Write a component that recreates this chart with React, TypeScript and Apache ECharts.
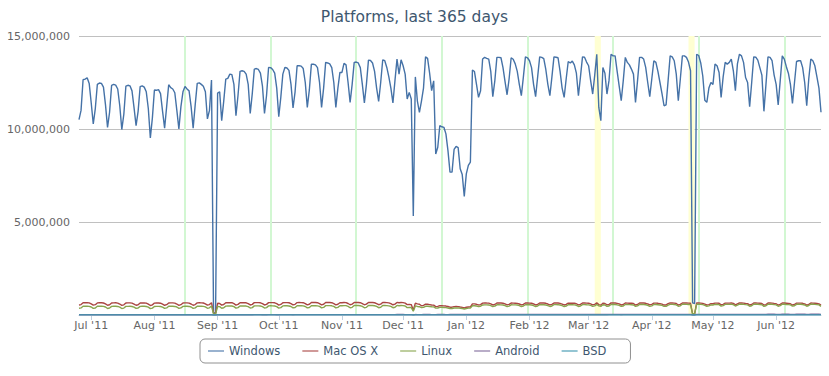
import React, { useEffect, useRef } from "react";
import * as echarts from "echarts";

const START_UTC = Date.UTC(2011, 5, 25);
const DAY_COUNT = 365;
const MONTH_NAMES = ["Jan", "Feb", "Mar", "Apr", "May", "Jun", "Jul", "Aug", "Sep", "Oct", "Nov", "Dec"];
const SERIES_NAMES = ["Windows", "Mac OS X", "Linux", "Android", "BSD"];
const SERIES_COLORS = ["#4572A7", "#AA4643", "#89A54E", "#80699B", "#3D96AE"];
const RELEASE_DATES = ["2011-08-16", "2011-09-27", "2011-11-08", "2011-12-20", "2012-01-31", "2012-03-13", "2012-04-24", "2012-06-05"];
const HIGHLIGHT_RANGES = [["2012-03-04", "2012-03-07"], ["2012-04-19", "2012-04-22"]];
const Y_MAX = 15000000;
const Y_STEP = 5000000;

// Windows, millions (Sat..Fri per row)
const windowsM = [
  10.50, 11.00, 12.65, 12.68, 12.75, 12.45, 11.40,
  10.27, 11.10, 12.40, 12.47, 12.45, 12.25, 11.30,
  10.09, 10.90, 12.35, 12.40, 12.36, 12.15, 11.25,
  9.97, 10.80, 12.30, 12.35, 12.32, 12.05, 11.15,
  10.18, 10.95, 12.28, 12.32, 12.25, 12.00, 11.10,
  9.52, 10.60, 12.10, 12.08, 12.12, 11.90, 10.95,
  10.05, 11.20, 12.38, 12.22, 12.15, 11.95, 11.00,
  10.00, 11.20, 12.00, 12.29, 12.15, 12.05, 11.20,
  10.04, 11.30, 12.45, 12.48, 12.40, 12.30, 12.00,
  10.54, 11.00, 12.63, 0.12, 0.10, 11.93, 12.00,
  10.45, 11.50, 12.68, 12.72, 12.95, 12.92, 12.40,
  10.72, 11.80, 13.10, 13.13, 13.10, 12.95, 12.40,
  10.84, 11.90, 13.22, 13.25, 13.20, 13.00, 12.30,
  10.84, 11.80, 13.31, 13.30, 13.20, 13.00, 12.20,
  10.66, 11.70, 12.95, 13.31, 13.28, 13.15, 12.40,
  11.13, 12.00, 13.40, 13.40, 13.38, 13.25, 12.50,
  11.16, 12.10, 13.49, 13.48, 13.45, 13.30, 12.50,
  11.16, 12.20, 13.58, 13.55, 13.50, 13.30, 12.50,
  11.16, 12.20, 13.04, 13.04, 13.53, 13.45, 12.50,
  11.43, 12.40, 13.58, 13.60, 13.55, 13.30, 12.40,
  11.40, 12.40, 13.70, 13.68, 13.55, 13.10, 12.20,
  11.48, 12.50, 13.72, 13.67, 13.31, 12.80, 12.20,
  11.40, 12.60, 13.76, 12.95, 13.72, 13.40, 12.95,
  11.61, 11.97, 11.61, 5.32, 12.80, 11.50, 10.90,
  11.50, 12.20, 13.88, 13.80, 13.00, 12.06, 12.59,
  8.66, 9.02, 10.18, 10.12, 10.09, 9.74, 8.84,
  7.68, 7.68, 8.90, 9.06, 9.00, 7.86, 7.55,
  6.38, 7.59, 8.04, 8.22, 13.17, 13.09, 12.40,
  11.70, 12.06, 13.76, 13.85, 13.80, 13.76, 13.10,
  11.74, 12.60, 13.85, 13.85, 13.83, 13.30, 12.55,
  11.84, 12.70, 13.83, 13.75, 13.50, 13.10, 12.40,
  11.79, 12.80, 13.88, 13.83, 13.67, 13.30, 12.40,
  11.74, 12.80, 13.88, 13.85, 13.78, 13.20, 12.40,
  11.79, 12.80, 13.88, 13.86, 13.83, 13.10, 12.20,
  11.70, 12.70, 13.63, 13.55, 13.65, 13.45, 13.00,
  11.79, 12.80, 13.88, 13.86, 13.60, 13.40, 12.60,
  11.88, 12.90, 14.02, 11.16, 10.45, 13.31, 13.00,
  11.88, 12.60, 14.02, 13.93, 13.93, 13.10, 12.30,
  11.52, 12.60, 13.85, 13.58, 13.45, 13.22, 12.95,
  11.43, 12.60, 13.85, 13.85, 13.76, 13.31, 12.50,
  11.74, 12.70, 13.67, 13.58, 13.10, 12.50, 11.90,
  11.25, 11.30, 12.60, 13.93, 13.88, 13.67, 12.95,
  11.52, 12.70, 13.93, 13.93, 13.85, 13.60, 13.13,
  0.65, 0.62, 14.02, 13.95, 13.55, 12.85, 11.55,
  11.43, 12.20, 12.50, 12.40, 13.49, 13.40, 13.04,
  11.70, 12.80, 13.58, 13.49, 13.58, 13.76, 13.13,
  12.06, 13.50, 14.02, 13.93, 13.58, 12.77, 12.50,
  11.20, 12.50, 13.88, 13.86, 13.70, 13.30, 12.90,
  10.95, 12.40, 13.88, 13.85, 13.67, 12.90, 12.40,
  11.30, 12.60, 13.93, 13.76, 13.35, 13.00, 12.40,
  11.38, 12.50, 13.63, 13.67, 13.67, 13.30, 12.50,
  11.25, 12.70, 13.76, 13.67, 13.40, 12.80, 12.20,
  10.90,
];

// Mac OS X, thousands
const macK = [
  540, 560, 655, 660, 662, 650, 600,
  530, 555, 650, 655, 658, 645, 595,
  525, 550, 648, 652, 655, 640, 590,
  520, 548, 645, 650, 652, 640, 588,
  525, 552, 645, 648, 650, 638, 585,
  510, 545, 640, 645, 648, 635, 582,
  522, 555, 648, 650, 650, 640, 590,
  520, 555, 645, 652, 650, 640, 592,
  525, 560, 650, 655, 652, 645, 600,
  535, 560, 660, 90, 80, 630, 620,
  530, 565, 655, 660, 665, 660, 610,
  535, 570, 660, 665, 662, 655, 610,
  540, 572, 665, 668, 665, 655, 612,
  540, 570, 665, 668, 665, 655, 610,
  535, 568, 660, 668, 666, 658, 612,
  545, 575, 668, 670, 668, 660, 615,
  548, 578, 670, 672, 670, 660, 615,
  548, 580, 672, 674, 670, 660, 615,
  548, 580, 660, 662, 672, 668, 618,
  552, 585, 672, 675, 672, 662, 615,
  550, 583, 675, 675, 670, 658, 612,
  552, 585, 675, 674, 665, 650, 610,
  550, 585, 676, 660, 674, 665, 640,
  555, 565, 560, 260, 640, 600, 580,
  500, 520, 580, 575, 560, 540, 530,
  450, 460, 500, 495, 490, 480, 455,
  420, 420, 450, 455, 452, 430, 410,
  380, 415, 430, 440, 600, 600, 575,
  540, 560, 640, 645, 642, 640, 600,
  540, 565, 645, 645, 642, 630, 595,
  545, 570, 642, 640, 635, 625, 592,
  542, 572, 645, 645, 640, 630, 592,
  540, 570, 645, 645, 642, 628, 590,
  542, 570, 645, 645, 643, 625, 588,
  540, 568, 638, 635, 638, 632, 605,
  542, 570, 645, 645, 638, 630, 595,
  545, 575, 650, 560, 530, 635, 620,
  545, 565, 650, 648, 648, 625, 595,
  540, 565, 645, 638, 635, 628, 615,
  538, 565, 645, 645, 642, 628, 595,
  542, 568, 640, 638, 628, 610, 588,
  535, 540, 610, 648, 645, 640, 618,
  540, 570, 648, 648, 645, 640, 628,
  60, 55, 650, 648, 640, 625, 585,
  538, 560, 610, 605, 640, 638, 628,
  545, 575, 640, 638, 640, 645, 628,
  550, 600, 650, 648, 640, 620, 610,
  535, 565, 645, 645, 640, 628, 615,
  530, 560, 645, 645, 640, 622, 605,
  535, 568, 648, 642, 632, 622, 605,
  538, 565, 638, 640, 640, 628, 600,
  535, 575, 642, 640, 635, 620, 600,
  528,
];

// Linux, thousands
const linuxK = [
  360, 380, 470, 472, 475, 465, 430,
  355, 378, 468, 470, 472, 462, 428,
  352, 375, 465, 468, 470, 460, 425,
  350, 372, 462, 466, 468, 458, 422,
  355, 376, 465, 468, 470, 458, 425,
  345, 370, 460, 462, 465, 455, 420,
  356, 380, 468, 470, 470, 460, 428,
  355, 380, 466, 472, 470, 460, 430,
  358, 382, 472, 475, 472, 465, 440,
  365, 385, 480, 70, 60, 455, 450,
  365, 390, 478, 482, 485, 482, 448,
  370, 395, 485, 488, 486, 480, 450,
  375, 398, 490, 492, 490, 482, 452,
  375, 398, 492, 494, 492, 482, 452,
  372, 396, 488, 495, 494, 486, 455,
  380, 402, 496, 498, 496, 488, 458,
  382, 405, 500, 502, 500, 490, 460,
  385, 408, 505, 506, 504, 494, 462,
  385, 408, 495, 496, 506, 502, 465,
  390, 412, 508, 510, 508, 498, 465,
  390, 412, 512, 512, 508, 496, 462,
  392, 415, 514, 512, 505, 492, 462,
  392, 418, 516, 500, 514, 505, 485,
  398, 405, 400, 200, 490, 460, 445,
  395, 415, 470, 468, 455, 440, 435,
  370, 378, 410, 408, 405, 398, 378,
  352, 352, 378, 382, 380, 362, 348,
  325, 352, 368, 375, 500, 500, 482,
  450, 470, 540, 545, 542, 540, 505,
  452, 475, 548, 548, 546, 536, 505,
  455, 480, 548, 546, 542, 535, 505,
  456, 482, 552, 552, 548, 540, 508,
  456, 482, 555, 555, 552, 540, 508,
  458, 484, 556, 556, 555, 538, 506,
  456, 482, 550, 548, 552, 546, 522,
  460, 486, 560, 560, 552, 546, 514,
  462, 490, 566, 490, 465, 552, 540,
  465, 485, 568, 566, 566, 546, 518,
  462, 486, 565, 558, 556, 550, 538,
  462, 488, 568, 568, 565, 552, 522,
  466, 490, 565, 562, 552, 538, 515,
  462, 465, 535, 572, 570, 566, 546,
  468, 494, 575, 575, 572, 566, 555,
  55, 50, 578, 576, 570, 556, 520,
  470, 490, 542, 538, 570, 568, 560,
  478, 505, 572, 570, 572, 576, 560,
  482, 530, 582, 580, 572, 555, 545,
  470, 498, 578, 578, 574, 562, 550,
  466, 495, 578, 578, 574, 558, 542,
  470, 502, 582, 578, 568, 560, 545,
  474, 500, 575, 578, 578, 566, 540,
  472, 510, 580, 578, 572, 560, 542,
  468,
];

// Android, thousands
const androidK = [
  10, 11, 12, 12, 12, 12, 11,
  10, 11, 12, 12, 12, 12, 11,
  11, 12, 13, 13, 13, 13, 12,
  11, 12, 13, 13, 13, 13, 12,
  12, 13, 14, 14, 14, 14, 13,
  12, 13, 14, 14, 14, 14, 13,
  13, 14, 15, 15, 15, 15, 14,
  13, 14, 15, 15, 15, 15, 14,
  14, 15, 16, 16, 16, 16, 15,
  14, 15, 16, 3, 3, 16, 15,
  15, 16, 17, 17, 17, 17, 16,
  15, 16, 17, 17, 17, 17, 16,
  16, 17, 18, 18, 18, 18, 17,
  16, 17, 18, 18, 18, 18, 17,
  17, 18, 19, 19, 19, 19, 18,
  17, 18, 19, 19, 19, 19, 18,
  18, 19, 20, 20, 20, 20, 19,
  18, 19, 20, 20, 20, 20, 19,
  19, 20, 21, 21, 21, 21, 20,
  19, 20, 21, 21, 21, 21, 20,
  20, 21, 22, 22, 22, 22, 21,
  20, 21, 22, 22, 22, 22, 21,
  21, 22, 23, 23, 23, 23, 22,
  21, 22, 22, 10, 23, 22, 21,
  22, 23, 24, 24, 23, 22, 22,
  22, 23, 23, 23, 23, 22, 22,
  23, 24, 24, 24, 24, 23, 23,
  24, 25, 25, 25, 26, 26, 25,
  25, 26, 27, 27, 27, 27, 26,
  25, 26, 27, 27, 27, 27, 26,
  26, 27, 28, 28, 28, 28, 27,
  26, 27, 28, 28, 28, 28, 27,
  27, 28, 29, 29, 29, 29, 28,
  27, 28, 29, 29, 29, 29, 28,
  28, 29, 30, 30, 30, 30, 29,
  28, 29, 30, 30, 30, 30, 29,
  29, 30, 31, 28, 27, 31, 30,
  30, 31, 32, 32, 32, 32, 31,
  30, 31, 32, 32, 32, 32, 31,
  31, 32, 33, 33, 33, 33, 32,
  31, 32, 33, 33, 33, 33, 32,
  32, 32, 34, 34, 34, 34, 33,
  32, 33, 34, 34, 34, 34, 33,
  4, 4, 35, 35, 35, 35, 34,
  33, 34, 35, 35, 36, 36, 35,
  33, 34, 35, 35, 36, 36, 35,
  34, 35, 36, 36, 36, 36, 35,
  34, 35, 36, 36, 36, 36, 35,
  34, 35, 37, 37, 37, 37, 36,
  34, 35, 37, 37, 37, 37, 36,
  35, 36, 38, 38, 38, 38, 37,
  35, 36, 38, 38, 38, 38, 37,
  35,
];

// BSD, thousands
const bsdK = [
  6, 6, 7, 7, 7, 7, 6,
  6, 6, 7, 7, 7, 7, 6,
  6, 6, 7, 7, 7, 7, 6,
  6, 6, 7, 7, 7, 7, 6,
  6, 6, 7, 7, 7, 7, 6,
  6, 6, 7, 7, 7, 7, 6,
  6, 6, 7, 7, 7, 7, 6,
  6, 6, 7, 7, 7, 7, 6,
  6, 6, 7, 7, 7, 7, 6,
  6, 6, 7, 1, 1, 7, 6,
  6, 6, 7, 7, 7, 7, 6,
  6, 6, 7, 7, 7, 7, 6,
  6, 6, 7, 7, 7, 7, 6,
  6, 6, 7, 7, 7, 7, 6,
  6, 6, 7, 7, 7, 7, 6,
  6, 6, 7, 7, 7, 7, 6,
  6, 6, 7, 7, 7, 7, 6,
  6, 6, 7, 7, 7, 7, 6,
  6, 6, 7, 7, 7, 7, 6,
  6, 6, 7, 7, 7, 7, 6,
  6, 6, 7, 7, 7, 7, 6,
  6, 6, 7, 7, 7, 7, 6,
  6, 6, 7, 7, 7, 7, 6,
  6, 6, 6, 3, 7, 6, 6,
  6, 6, 7, 7, 7, 6, 6,
  5, 5, 6, 6, 6, 6, 5,
  5, 5, 5, 5, 5, 5, 5,
  5, 5, 5, 5, 7, 7, 6,
  6, 6, 7, 7, 7, 7, 6,
  6, 6, 7, 7, 7, 7, 6,
  6, 6, 7, 7, 7, 7, 6,
  6, 6, 7, 7, 7, 7, 6,
  6, 6, 7, 7, 7, 7, 6,
  6, 6, 7, 7, 7, 7, 6,
  6, 6, 7, 7, 7, 7, 6,
  6, 6, 7, 7, 7, 7, 6,
  6, 6, 7, 6, 6, 7, 6,
  6, 6, 7, 7, 7, 7, 6,
  6, 6, 7, 7, 7, 7, 6,
  6, 6, 7, 7, 7, 7, 6,
  6, 6, 7, 7, 7, 7, 6,
  6, 6, 7, 7, 7, 7, 6,
  6, 6, 7, 7, 7, 7, 6,
  1, 1, 7, 7, 7, 7, 6,
  6, 6, 7, 7, 7, 7, 6,
  6, 6, 7, 7, 7, 7, 6,
  6, 6, 7, 7, 7, 7, 6,
  6, 6, 7, 7, 7, 7, 6,
  6, 6, 7, 7, 7, 7, 6,
  6, 6, 7, 7, 7, 7, 6,
  6, 6, 7, 7, 7, 7, 6,
  6, 6, 7, 7, 7, 7, 6,
  6,
];

function buildDates(): string[] {
  const out: string[] = [];
  for (let i = 0; i < DAY_COUNT; i++) {
    out.push(new Date(START_UTC + i * 86400000).toISOString().slice(0, 10));
  }
  return out;
}

function withCommas(v: number): string {
  return String(Math.round(v)).replace(/\B(?=(\d{3})+(?!\d))/g, ",");
}

function monthLabel(value: string): string {
  const [y, m] = value.split("-");
  return MONTH_NAMES[Number(m) - 1] + " '" + y.slice(2);
}

const isMonthStart = (_i: number, value: string) => value.slice(8, 10) === "01";

export default function App() {
  const ref = useRef<HTMLDivElement>(null);

  useEffect(() => {
    if (!ref.current) return;
    const chart = echarts.init(ref.current, undefined, { renderer: "svg" });
    const dates = buildDates();
    const raw = [
      windowsM.map((v) => Math.round(v * 1e6)),
      macK.map((v) => v * 1000),
      linuxK.map((v) => v * 1000),
      androidK.map((v) => v * 1000),
      bsdK.map((v) => v * 1000),
    ];
    const font = "DejaVu Sans";
    const series: any[] = SERIES_NAMES.map((name, i) => ({
      name,
      type: "line",
      data: raw[i],
      symbol: "none",
      showSymbol: false,
      color: SERIES_COLORS[i],
      lineStyle: { width: 1.4, color: SERIES_COLORS[i] },
      emphasis: { disabled: true },
      silent: true,
    }));
    series[0].markArea = {
      silent: true,
      z: 1,
      itemStyle: { color: "#FFFFD2" },
      label: { show: false },
      emphasis: { disabled: true },
      data: HIGHLIGHT_RANGES.map(([a, b]) => [{ xAxis: a }, { xAxis: b }]),
    };
    series[0].markLine = {
      silent: true,
      z: 1,
      symbol: ["none", "none"],
      label: { show: false },
      emphasis: { disabled: true },
      lineStyle: { color: "#D2F7D2", width: 2, type: "solid" },
      data: RELEASE_DATES.map((d) => ({ xAxis: d })),
    };

    chart.setOption({
      animation: false,
      backgroundColor: "#ffffff",
      title: {
        text: "Platforms, last 365 days",
        left: "center",
        top: 4,
        textStyle: { color: "#3E576F", fontSize: 15.5, fontWeight: "normal", fontFamily: font },
      },
      legend: {
        data: SERIES_NAMES,
        left: 200,
        top: 339,
        orient: "horizontal",
        icon: "rect",
        itemWidth: 16,
        itemHeight: 2,
        itemGap: 22,
        padding: [5, 24, 5, 8],
        borderColor: "#909090",
        borderWidth: 1,
        borderRadius: 5,
        selectedMode: false,
        itemStyle: { opacity: 0.55 },
        textStyle: { color: "#3E576F", fontSize: 11.5, fontFamily: font, lineHeight: 14 },
      },
      grid: { left: 79, right: 8, top: 36, bottom: 61, containLabel: false },
      xAxis: {
        type: "category",
        data: dates,
        boundaryGap: false,
        axisLine: { lineStyle: { color: "#C0D0E0", width: 1 } },
        axisTick: { show: true, interval: isMonthStart, length: 5, lineStyle: { color: "#C0D0E0" } },
        axisLabel: {
          interval: isMonthStart,
          formatter: monthLabel,
          color: "#666666",
          fontSize: 11,
          fontFamily: font,
          margin: 5,
        },
        splitLine: { show: false },
      },
      yAxis: {
        type: "value",
        min: 0,
        max: Y_MAX,
        interval: Y_STEP,
        axisLine: { show: false },
        axisTick: { show: false },
        axisLabel: {
          formatter: (v: number) => withCommas(v),
          showMinLabel: false,
          color: "#666666",
          fontSize: 11,
          fontFamily: font,
          margin: 9,
        },
        splitLine: { lineStyle: { color: "#C0C0C0", width: 1 } },
      },
      series,
    });
    return () => chart.dispose();
  }, []);

  return (
    <div
      ref={ref}
      style={{ position: "fixed", left: 0, top: 0, width: 829, height: 376, background: "#fff" }}
    />
  );
}
